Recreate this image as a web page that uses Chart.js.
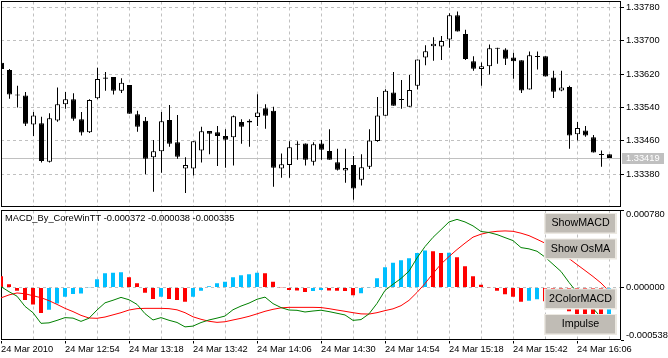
<!DOCTYPE html>
<html><head><meta charset="utf-8">
<script src="https://cdn.jsdelivr.net/npm/chart.js@4/dist/chart.umd.min.js"></script>
<style>
html,body{margin:0;padding:0;background:#fff;width:668px;height:358px;overflow:hidden}
#top{position:absolute;left:0;top:0}
#bot{position:absolute;left:0;top:200px}
</style></head><body>
<canvas id="top" width="668" height="209"></canvas>
<canvas id="bot" width="668" height="158"></canvas>
<script>
// ---------- data (EURUSD-like, M3 bars, 24 Mar 2010 12:30 .. 16:18) ----------
const OPEN = [1.33647,1.33630,1.33570,1.33569,1.33499,1.33502,1.33410,1.33509,1.33548,1.33560,
1.33512,1.33481,1.33562,1.33612,1.33613,1.33580,1.33594,1.33524,1.33508,1.33421,
1.33435,1.33510,1.33457,1.33394,1.33394,1.33437,1.33484,1.33481,1.33472,1.33469,
1.33505,1.33508,1.33517,1.33538,1.33532,1.33394,1.33402,1.33453,1.33454,1.33410,
1.33454,1.33436,1.33409,1.33389,1.33402,1.33367,1.33398,1.33460,1.33520,1.33576,
1.33560,1.33542,1.33592,1.33660,1.33687,1.33686,1.33703,1.33761,1.33716,1.33651,
1.33632,1.33639,1.33682,1.33679,1.33660,1.33653,1.33583,1.33662,1.33663,1.33612,
1.33581,1.33589,1.33476,1.33485,1.33469,1.33428,1.33428];
const HIGH = [1.33649,1.33632,1.33592,1.33577,1.33529,1.33518,1.33526,1.33588,1.33577,1.33574,
1.33529,1.33560,1.33635,1.33625,1.33613,1.33610,1.33594,1.33532,1.33517,1.33462,
1.33529,1.33546,1.33522,1.33421,1.33459,1.33494,1.33484,1.33496,1.33488,1.33521,
1.33512,1.33512,1.33572,1.33548,1.33542,1.33430,1.33459,1.33459,1.33454,1.33457,
1.33462,1.33488,1.33441,1.33441,1.33424,1.33428,1.33488,1.33565,1.33584,1.33625,
1.33606,1.33618,1.33655,1.33689,1.33708,1.33711,1.33766,1.33770,1.33726,1.33663,
1.33648,1.33691,1.33683,1.33682,1.33671,1.33653,1.33674,1.33674,1.33663,1.33628,
1.33628,1.33592,1.33505,1.33496,1.33474,1.33437,1.33428];
const LOW = [1.33630,1.33561,1.33540,1.33496,1.33472,1.33408,1.33408,1.33506,1.33537,1.33508,
1.33473,1.33479,1.33560,1.33580,1.33571,1.33575,1.33525,1.33482,1.33380,1.33338,
1.33384,1.33446,1.33417,1.33335,1.33377,1.33408,1.33428,1.33400,1.33396,1.33401,
1.33453,1.33446,1.33496,1.33489,1.33350,1.33372,1.33372,1.33415,1.33401,1.33401,
1.33415,1.33415,1.33389,1.33360,1.33319,1.33353,1.33393,1.33458,1.33520,1.33544,
1.33537,1.33542,1.33583,1.33641,1.33652,1.33654,1.33683,1.33722,1.33654,1.33628,
1.33592,1.33619,1.33645,1.33642,1.33609,1.33575,1.33583,1.33631,1.33614,1.33563,
1.33579,1.33441,1.33461,1.33470,1.33432,1.33398,1.33419];
const CLOSE = [1.33632,1.33571,1.33569,1.33501,1.33521,1.33412,1.33514,1.33548,1.33560,1.33513,
1.33480,1.33558,1.33608,1.33609,1.33580,1.33599,1.33525,1.33494,1.33417,1.33435,
1.33507,1.33453,1.33422,1.33402,1.33459,1.33483,1.33477,1.33472,1.33463,1.33519,
1.33494,1.33504,1.33528,1.33520,1.33396,1.33404,1.33445,1.33451,1.33415,1.33452,
1.33439,1.33415,1.33391,1.33395,1.33346,1.33397,1.33461,1.33521,1.33580,1.33544,
1.33558,1.33582,1.33655,1.33675,1.33693,1.33699,1.33761,1.33722,1.33656,1.33633,
1.33639,1.33682,1.33681,1.33657,1.33651,1.33581,1.33665,1.33661,1.33614,1.33578,
1.33588,1.33473,1.33491,1.33473,1.33432,1.33426,1.33419];

const MACD = [8e-6,-43e-6,-89e-6,-192e-6,-256e-6,-364e-6,-359e-6,-334e-6,-306e-6,-311e-6,
-344e-6,-312e-6,-229e-6,-156e-6,-130e-6,-101e-6,-125e-6,-172e-6,-266e-6,-330e-6,
-306e-6,-333e-6,-355e-6,-400e-6,-392e-6,-356e-6,-330e-6,-311e-6,-290e-6,-226e-6,
-189e-6,-159e-6,-120e-6,-98e-6,-164e-6,-204e-6,-229e-6,-232e-6,-249e-6,-239e-6,
-231e-6,-245e-6,-262e-6,-279e-6,-334e-6,-326e-6,-268e-6,-162e-6,-30e-6,32e-6,
91e-6,165e-6,299e-6,414e-6,508e-6,585e-6,664e-6,690e-6,664e-6,624e-6,
567e-6,557e-6,536e-6,505e-6,475e-6,404e-6,391e-6,367e-6,308e-6,235e-6,
162e-6,51e-6,-51e-6,-131e-6,-212e-6,-303e-6,-372e-6];
const SIGNAL = [-106e-6,-76e-6,-56e-6,-64e-6,-84e-6,-104e-6,-134e-6,-172e-6,-212e-6,-245e-6,
-283e-6,-310e-6,-313e-6,-300e-6,-278e-6,-256e-6,-229e-6,-215e-6,-212e-6,-212e-6,
-212e-6,-215e-6,-227e-6,-256e-6,-298e-6,-323e-6,-343e-6,-354e-6,-348e-6,-330e-6,
-313e-6,-293e-6,-268e-6,-242e-6,-222e-6,-207e-6,-202e-6,-202e-6,-202e-6,-202e-6,
-204e-6,-215e-6,-229e-6,-242e-6,-256e-6,-268e-6,-270e-6,-256e-6,-235e-6,-217e-6,
-185e-6,-131e-6,-51e-6,40e-6,141e-6,237e-6,313e-6,384e-6,449e-6,510e-6,
540e-6,559e-6,569e-6,573e-6,569e-6,550e-6,525e-6,488e-6,449e-6,397e-6,
354e-6,293e-6,232e-6,172e-6,111e-6,45e-6,-38e-6];
const HIST = [114e-6,33e-6,-33e-6,-128e-6,-172e-6,-260e-6,-225e-6,-162e-6,-94e-6,-66e-6,
-61e-6,-2e-6,84e-6,144e-6,148e-6,155e-6,104e-6,43e-6,-54e-6,-118e-6,
-94e-6,-118e-6,-128e-6,-144e-6,-94e-6,-33e-6,13e-6,43e-6,58e-6,104e-6,
124e-6,134e-6,148e-6,144e-6,58e-6,3e-6,-27e-6,-30e-6,-47e-6,-37e-6,
-27e-6,-30e-6,-33e-6,-37e-6,-78e-6,-58e-6,2e-6,94e-6,205e-6,249e-6,
276e-6,296e-6,350e-6,374e-6,367e-6,348e-6,351e-6,306e-6,215e-6,114e-6,
27e-6,-2e-6,-33e-6,-68e-6,-94e-6,-146e-6,-134e-6,-121e-6,-141e-6,-162e-6,
-192e-6,-242e-6,-283e-6,-303e-6,-323e-6,-348e-6,-335e-6];

const PRICE_TICKS = [1.33380, 1.33460, 1.33540, 1.33620, 1.33700, 1.33780];
const PRICE_MIN = 1.333017, PRICE_MAX = 1.337939;
const MACD_TICKS = [-0.000538, 0, 0.000780];
const LABEL_BARS = [0, 8, 16, 24, 32, 40, 48, 56, 64, 72];
const TIME_LABELS = ['24 Mar 2010','24 Mar 12:54','24 Mar 13:18','24 Mar 13:42','24 Mar 14:06',
                     '24 Mar 14:30','24 Mar 14:54','24 Mar 15:18','24 Mar 15:42','24 Mar 16:06'];
const GRID_BARS = [4,8,12,16,20,24,28,32,36,40,44,48,52,56,60,64,68,72,76];
const INDICATOR_NAME = 'MACD_By_CoreWinTT';
const HEADER_VALUES = ['-0.000372', '-0.000038', '-0.000335'];
const BUTTONS = ['ShowMACD', 'Show OsMA', '2ColorMACD', 'Impulse'];

// ---------- styling ----------
const FONT = '"Liberation Sans", Arial, sans-serif';
const GRID = '#c0c0c0';
Chart.defaults.font.family = FONT;
Chart.defaults.font.size = 9.3;
Chart.defaults.color = '#000';
const alignPx = p => Math.round(p - 0.5) + 0.5;

function drawFrame(ctx, a) {
  const L = Math.floor(a.left) + 0.5, R = Math.floor(a.right) - 0.5;
  const T = Math.floor(a.top) + 0.5, B = Math.floor(a.bottom) - 0.5;
  ctx.save();
  ctx.strokeStyle = '#000'; ctx.lineWidth = 1; ctx.setLineDash([]);
  ctx.strokeRect(L, T, R - L, B - T);
  ctx.restore();
}

const topDecor = {
  id: 'topDecor',
  beforeDatasetsDraw(chart) {
    const {ctx, chartArea: a, scales: {x, y}} = chart;
    ctx.save();
    ctx.strokeStyle = GRID; ctx.lineWidth = 1; ctx.setLineDash([3, 3]);
    ctx.beginPath();
    GRID_BARS.forEach(v => { const px = alignPx(x.getPixelForValue(v)); ctx.moveTo(px, a.top); ctx.lineTo(px, a.bottom); });
    PRICE_TICKS.forEach(v => { const py = alignPx(y.getPixelForValue(v)); ctx.moveTo(a.left, py); ctx.lineTo(a.right, py); });
    ctx.stroke();
    ctx.setLineDash([]);
    const last = CLOSE[CLOSE.length - 1];
    const ly = alignPx(y.getPixelForValue(last));
    ctx.beginPath(); ctx.moveTo(a.left, ly); ctx.lineTo(a.right, ly); ctx.stroke();
    ctx.restore();
    drawFrame(ctx, a);
  },
  afterDraw(chart) {
    const {ctx, chartArea: a, scales: {y}} = chart;
    const last = CLOSE[CLOSE.length - 1];
    const py = y.getPixelForValue(last);
    ctx.save();
    ctx.fillStyle = '#c0c0c0';
    ctx.fillRect(Math.floor(a.right) + 1, Math.round(py) - 5, 42, 11);
    ctx.fillStyle = '#fff';
    ctx.font = '9.3px ' + FONT;
    ctx.textBaseline = 'middle'; ctx.textAlign = 'left';
    ctx.fillText(last.toFixed(5), Math.floor(a.right) + 5, Math.round(py) + 0.5);
    ctx.restore();
  }
};

const botDecor = {
  id: 'botDecor',
  beforeDraw(chart) {
    const s = chart.scales.y;
    if (!s || typeof s.getLabelItems !== 'function') return;
    const items = s.getLabelItems();
    items.forEach((it, k) => {
      if (it._shifted || !s.ticks[k]) return;
      const v = s.ticks[k].value;
      if (v === MACD_TICKS[2]) it.options.translation[1] += 3.8;
      if (v === MACD_TICKS[0]) it.options.translation[1] -= 5.5;
      it._shifted = true;
    });
  },
  beforeDatasetsDraw(chart) {
    const {ctx, chartArea: a, scales: {x, y}} = chart;
    ctx.save();
    ctx.strokeStyle = GRID; ctx.lineWidth = 1; ctx.setLineDash([3, 3]);
    ctx.beginPath();
    GRID_BARS.forEach(v => { const px = alignPx(x.getPixelForValue(v)); ctx.moveTo(px, a.top); ctx.lineTo(px, a.bottom); });
    const zy = alignPx(y.getPixelForValue(0));
    ctx.moveTo(a.left, zy); ctx.lineTo(a.right, zy);
    ctx.stroke();
    ctx.restore();
    drawFrame(ctx, a);
  },
  afterDraw(chart) {
    const {ctx} = chart;
    ctx.save();
    ctx.fillStyle = '#000';
    ctx.font = '9.3px ' + FONT;
    ctx.textBaseline = 'middle'; ctx.textAlign = 'left';
    ctx.fillText(INDICATOR_NAME + ' ' + HEADER_VALUES.join(' '), 5, 18.5);
    const tops = [14, 39.5, 89.5, 115];
    BUTTONS.forEach((t, k) => {
      const y0 = tops[k];
      ctx.fillStyle = '#ece9e2';
      ctx.fillRect(544, y0 - 1, 73, 21);
      ctx.fillStyle = '#c0bcb5';
      ctx.fillRect(545.5, y0, 69.5, 18.5);
      ctx.fillStyle = '#000';
      ctx.font = '10.7px ' + FONT;
      ctx.textAlign = 'center';
      ctx.fillText(t, 580.5, y0 + 9.5);
    });
    ctx.restore();
  }
};

// ---------- price chart ----------
new Chart(document.getElementById('top'), {
  type: 'bar',
  data: {
    datasets: [
      { label: 'Body', order: 1,
        data: OPEN.map((o, i) => ({x: i, y: [o, CLOSE[i]]})),
        backgroundColor: OPEN.map((o, i) => CLOSE[i] > o ? '#ffffff' : '#000000'),
        borderColor: '#000', borderWidth: 1, borderSkipped: false,
        barThickness: 5, minBarLength: 1, inflateAmount: 0, grouped: false },
      { label: 'Wick', order: 2,
        data: LOW.map((l, i) => ({x: i, y: [l, HIGH[i]]})),
        backgroundColor: '#000', borderWidth: 0,
        barThickness: 1, inflateAmount: 0, grouped: false }
    ]
  },
  options: {
    responsive: false, animation: false, events: [], devicePixelRatio: 1,
    layout: { autoPadding: false, padding: { left: 1, top: 1.5, right: 0, bottom: 2 } },
    plugins: { legend: { display: false }, tooltip: { enabled: false } },
    scales: {
      x: { type: 'linear', min: -0.0625, max: 77.4375, offset: false,
           grid: { display: false, offset: false }, border: { display: false },
           ticks: { display: false },
           afterFit: s => { s.height = 0; s.paddingLeft = s.paddingRight = 0; } },
      y: { position: 'right', min: PRICE_MIN, max: PRICE_MAX, beginAtZero: false,
           afterBuildTicks: s => { s.ticks = PRICE_TICKS.map(v => ({value: v})); },
           ticks: { padding: 2, autoSkip: false, callback: v => Number(v).toFixed(5) },
           grid: { drawOnChartArea: false, drawTicks: true, tickLength: 3, tickColor: '#000', offset: false },
           border: { display: false },
           afterFit: s => { s.width = 47; s.paddingTop = s.paddingBottom = 0; } }
    }
  },
  plugins: [topDecor]
});

// ---------- MACD chart ----------
new Chart(document.getElementById('bot'), {
  type: 'bar',
  data: {
    datasets: [
      { type: 'line', label: 'MACD', order: 0,
        data: MACD.map((v, i) => ({x: i, y: v})),
        borderColor: '#008000', borderWidth: 1, pointRadius: 0, tension: 0, fill: false },
      { type: 'line', label: 'Signal', order: 0,
        data: SIGNAL.map((v, i) => ({x: i, y: v})),
        borderColor: '#ff0000', borderWidth: 1, pointRadius: 0, tension: 0, fill: false },
      { type: 'bar', label: 'Histogram', order: 1,
        data: HIST.map((v, i) => ({x: i, y: v})),
        backgroundColor: HIST.map((v, i) => (i > 0 && v > HIST[i - 1]) ? '#00bfff' : '#ff0000'),
        borderWidth: 0, barThickness: 4, inflateAmount: 0, grouped: false }
    ]
  },
  options: {
    responsive: false, animation: false, events: [], devicePixelRatio: 1,
    layout: { autoPadding: false, padding: { left: 1, top: 10.5, right: 0, bottom: 0 } },
    plugins: { legend: { display: false }, tooltip: { enabled: false } },
    scales: {
      x: { type: 'linear', min: 0, max: 77.5, offset: false,
           afterBuildTicks: s => { s.ticks = LABEL_BARS.map(v => ({value: v})); },
           ticks: { align: 'start', padding: 0, autoSkip: false, maxRotation: 0, minRotation: 0,
                    callback: (v, i) => TIME_LABELS[i] },
           grid: { drawOnChartArea: false, drawTicks: true, tickLength: 3, tickColor: '#000', offset: false },
           border: { display: false },
           afterFit: s => { s.height = 17.5; s.paddingLeft = s.paddingRight = 0; } },
      y: { position: 'right', min: MACD_TICKS[0], max: MACD_TICKS[2], beginAtZero: false,
           afterBuildTicks: s => { s.ticks = MACD_TICKS.map(v => ({value: v})); },
           ticks: { padding: 2, autoSkip: false, callback: v => Number(v).toFixed(6) },
           grid: { drawOnChartArea: false, drawTicks: true, tickLength: 3, tickColor: '#000' },
           border: { display: false },
           afterFit: s => { s.width = 47; s.paddingTop = s.paddingBottom = 0; } }
    }
  },
  plugins: [botDecor]
});
</script>
</body></html>
